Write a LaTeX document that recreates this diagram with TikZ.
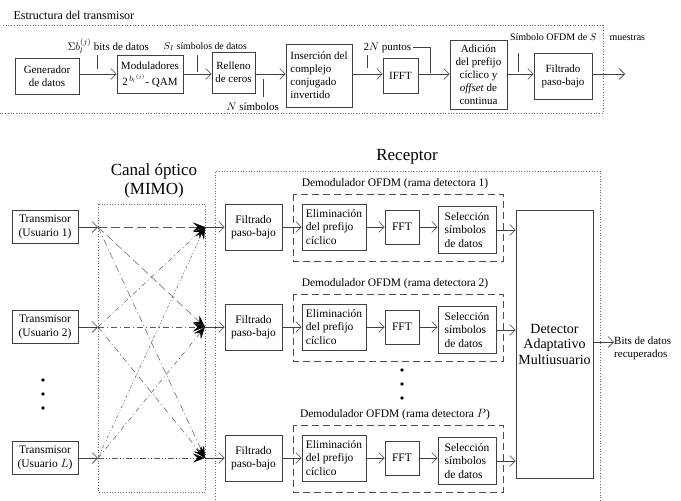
\documentclass[tikz,border=0pt]{standalone}
\usepackage{fontspec}
\setmainfont{Liberation Serif}
\usetikzlibrary{arrows.meta}
\begin{document}
\begin{tikzpicture}[x=1pt,y=-1pt,
 bx/.style={draw=black!75, line width=0.6pt, inner sep=0pt, align=center},
 top/.style={font=\fontsize{11}{13}\selectfont},
 med/.style={font=\fontsize{11.5}{13.3}\selectfont},
 big/.style={font=\fontsize{17}{19}\selectfont},
 oa/.style={draw=black!75, line width=0.6pt, -{Straight Barb[length=5.5pt,width=11pt]}},
 ln/.style={draw=black!75, line width=0.6pt},
 frame/.style={draw=black!60, dotted, line width=0.7pt},
 burst/.style={draw=black!65, line width=0.5pt, -{Stealth[length=12pt,width=9pt,inset=4.5pt,color=black]}},
 dbox/.style={draw=black!70, line width=0.6pt, dash pattern=on 7pt off 4pt},
]
\useasboundingbox (0,0) rectangle (681,501);
% ---------- transmitter structure ----------
\node[font=\fontsize{12}{14}\selectfont, anchor=base west] (tit) at (10,19) {Estructura del transmisor};
\draw[frame] (3,25) -- (603,25) -- (603,113) -- (0,113);

\node[bx,top,minimum width=64pt,minimum height=36pt] (gen) at (47,76) {Generador\\de datos};
\node[bx,top,minimum width=66pt,minimum height=38pt] (mod) at (150,74.5) {Moduladores\\[3pt]2$^{\,b_l{}^{(j)}}$- QAM};
\node[bx,top,minimum width=43pt,minimum height=41pt] (rel) at (233.5,72.5) {Relleno\\de ceros};
\node[bx,top,align=left,minimum width=66pt,minimum height=63pt] (ins) at (319,75.5) {Inserción del\\complejo\\conjugado\\invertido};
\node[bx,top,minimum width=35pt,minimum height=35pt] (ifft) at (400.5,75.5) {IFFT};
\node[bx,top,minimum width=57pt,minimum height=69pt] (adi) at (478.5,74.5) {Adición\\del prefijo\\cíclico y\\\textit{offset} de\\continua};
\node[bx,top,minimum width=58pt,minimum height=46pt] (flt) at (563,76) {Filtrado\\paso-bajo};
\coordinate (tout) at (625,74);

\draw[oa] (gen.east |- 0,74) -- (mod.west |- 0,74);
\draw[oa] (mod.east |- 0,74) -- (rel.west |- 0,74);
\draw[oa] (rel.east |- 0,74) -- (ins.west |- 0,74);
\draw[oa] (ins.east |- 0,74) -- (ifft.west |- 0,74);
\draw[oa] (ifft.east |- 0,74) -- (adi.west |- 0,74);
\draw[oa] (adi.east |- 0,74) -- (flt.west |- 0,74);
\draw[oa] (flt.east |- 0,74) -- (tout);

\node[top, anchor=base west] (lb1) at (64,50) {$\Sigma b_l^{(j)}$ bits de datos};
\draw[ln] (97,55) -- (97,69);
\node[font=\fontsize{9.8}{12}\selectfont, anchor=base west] (lb2) at (160,49) {$S_I$ símbolos de datos};
\draw[ln] (197,55) -- (197,72);
\node[top, anchor=base west] (lb3) at (223,110) {$N$ símbolos};
\draw[ln] (263,79) -- (263,97);
\node[top, anchor=base west] (lb4) at (360,50) {2$N$ puntos};
\draw[ln] (367,55) -- (367,68);
\draw[ln] (413,47) -- (430,47) -- (430,73);
\node[font=\fontsize{10}{12}\selectfont, anchor=base east] (lb5) at (600,40) {Símbolo OFDM de $S$};
\node[font=\fontsize{10}{12}\selectfont, anchor=base west] (lb6) at (606,40) {muestras};
\draw[ln] (518,53) -- (518,72);

% ---------- channel ----------
\node[big, align=center] (canal) at (154,181) {Canal óptico\\(MIMO)};
\node[big] (recep) at (407,157) {Receptor};
\draw[frame] (98,204) rectangle (205,492);
\draw[frame] (215,510) -- (215,171) -- (600,171) -- (600,510);

\node[bx,med,minimum width=66pt,minimum height=33pt] (tx1) at (45,227) {Transmisor\\(Usuario 1)};
\node[bx,med,minimum width=66pt,minimum height=33pt] (tx2) at (45,327) {Transmisor\\(Usuario 2)};
\node[bx,med,minimum width=66pt,minimum height=33pt] (tx3) at (45,458) {Transmisor\\(Usuario $L$)};
\fill (43,380) circle[radius=1.8pt] (43,394) circle[radius=1.8pt] (43,408) circle[radius=1.8pt];

\coordinate (i1) at (98,227); \coordinate (i2) at (98,327); \coordinate (i3) at (98,458);
\coordinate (o1) at (205,227); \coordinate (o2) at (205,327); \coordinate (o3) at (205,458);
\draw[oa] (tx1) -- (i1);
\draw[oa] (tx2) -- (i2);
\draw[oa] (tx3) -- (i3);

\draw[burst, dash pattern=on 9pt off 4pt] (i1) -- (o1);
\draw[burst, dash pattern=on 8pt off 4pt] (i1) -- (o2);
\draw[burst, dash pattern=on 7pt off 3pt on 1pt off 3pt] (i1) -- (o3);
\draw[burst, dash pattern=on 5pt off 3pt on 1pt off 3pt] (i2) -- (o1);
\draw[burst, dash pattern=on 6pt off 3pt on 1pt off 3pt] (i2) -- (o2);
\draw[burst, dash pattern=on 6pt off 3pt on 1pt off 3pt] (i2) -- (o3);
\draw[burst, dash pattern=on 3pt off 2pt on 1pt off 2pt on 1pt off 2pt] (i3) -- (o1);
\draw[burst, dash pattern=on 5pt off 3pt on 1pt off 3pt] (i3) -- (o2);
\draw[burst, dash pattern=on 6pt off 2pt on 1pt off 2pt on 1pt off 2pt] (i3) -- (o3);

% ---------- receiver ----------
\node[bx,font=\fontsize{14}{15.5}\selectfont,minimum width=77pt,minimum height=268pt] (det) at (554.5,344) {Detector\\Adaptativo\\Multiusuario};
\coordinate (rout) at (614,342);
\draw[oa] (det.east |- rout) -- (rout);
\node[font=\fontsize{11}{13}\selectfont, align=left, anchor=west, inner sep=0pt] (bits) at (614,348) {Bits de datos\\recuperados};

\foreach \r/\y/\p in {1/227/1,2/327/2,3/458/{$P$}} {
  \node[bx,med,minimum width=57pt,minimum height=46pt] (f\r) at (253.5,\y) {Filtrado\\paso-bajo};
  \draw[dbox] (293,\y-33) rectangle (503,\y+34);
  \node[med] (dl\r) at (395,\y-43) {Demodulador OFDM (rama detectora \p)};
  \node[bx,med,align=left,minimum width=64pt,minimum height=46pt] (el\r) at (334,\y) {Eliminación\\del prefijo\\cíclico};
  \node[bx,med,minimum width=34pt,minimum height=34pt] (fft\r) at (402,\y) {FFT};
  \node[bx,med,align=left,minimum width=58pt,minimum height=47pt] (se\r) at (467,\y+3) {Selección\\símbolos\\de datos};
  \draw[oa] (o\r) -- (f\r);
  \draw[oa] (f\r) -- (el\r);
  \draw[oa] (el\r) -- (fft\r);
  \draw[oa] (fft\r.east) -- (fft\r.east -| se\r.west);
  \draw[oa] (se\r) -- (se\r -| det.west);
}
\fill (402,370) circle[radius=1.8pt] (402,384) circle[radius=1.8pt] (402,398) circle[radius=1.8pt];
\end{tikzpicture}
\end{document}
